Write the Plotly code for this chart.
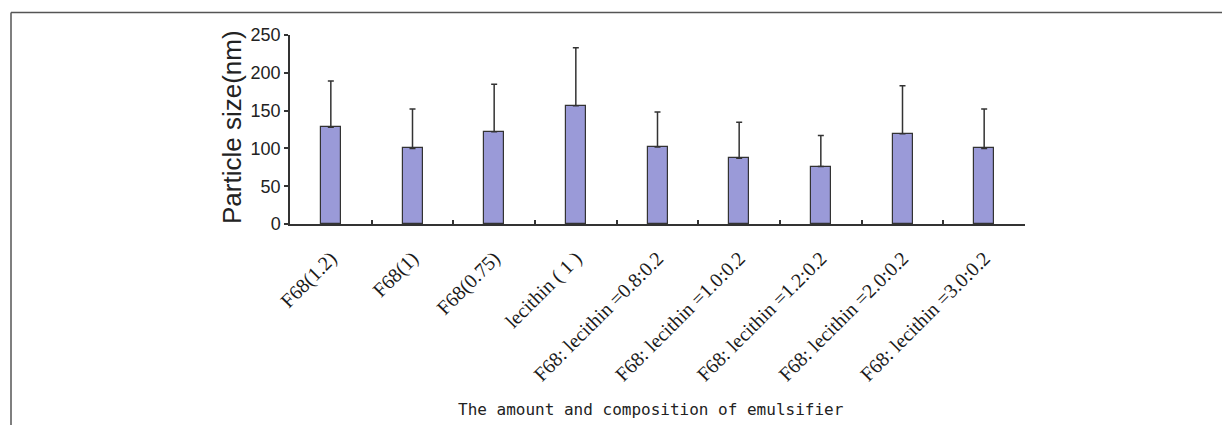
import plotly.graph_objects as go

# Emulsifier formulations and measured particle size (mean, upper SD)
categories = [
    "F68(1.2)",
    "F68(1)",
    "F68(0.75)",
    "lecithin ( 1 )",
    "F68: lecithin =0.8:0.2",
    "F68: lecithin =1.0:0.2",
    "F68: lecithin =1.2:0.2",
    "F68: lecithin =2.0:0.2",
    "F68: lecithin =3.0:0.2",
]
mean_size = [128, 100, 122, 156.5, 102, 87, 76, 119.5, 100]
sd_size = [61, 52, 63, 76.5, 46, 47.5, 41, 63.5, 52]
y_ticks = [0, 50, 100, 150, 200, 250]

W, H = 1222, 425
L, R, T, B = 290, 197, 35, 201
pw, ph = W - L - R, H - T - B


def px_x(p):
    return (p - L) / pw


def px_y(p):
    return (H - B - p) / ph


fig = go.Figure()
fig.add_trace(go.Bar(
    x=categories,
    y=mean_size,
    width=0.245,
    marker=dict(color="#9a9ad8", line=dict(color="#333333", width=1.2)),
    error_y=dict(
        type="data",
        symmetric=False,
        array=sd_size,
        arrayminus=[0] * len(sd_size),
        color="#333333",
        thickness=1.5,
        width=3,
    ),
    showlegend=False,
))

axis_color = "#333333"
fig.update_layout(
    width=W,
    height=H,
    margin=dict(l=L, r=R, t=T, b=B),
    paper_bgcolor="white",
    plot_bgcolor="white",
    bargap=0,
    xaxis=dict(
        type="category",
        tickson="boundaries",
        ticks="inside",
        ticklen=4,
        tickwidth=1.5,
        tickcolor=axis_color,
        showline=True,
        linecolor=axis_color,
        linewidth=1.5,
        showgrid=False,
        tickangle=-45,
        ticklabelstandoff=13,
        tickfont=dict(family="Liberation Serif", size=20, color="#1a1a1a"),
        range=[-0.5, len(categories) - 0.5],
    ),
    yaxis=dict(
        range=[0, 250],
        tickmode="array",
        tickvals=y_ticks,
        ticks="outside",
        ticklen=4,
        tickwidth=1.5,
        tickcolor=axis_color,
        showline=True,
        linecolor=axis_color,
        linewidth=1.5,
        showgrid=False,
        zeroline=False,
        tickfont=dict(family="Liberation Sans", size=18, color="#222222"),
    ),
    annotations=[
        dict(
            text="Particle size(nm)",
            xref="paper", yref="paper",
            x=px_x(232), y=px_y(127),
            xanchor="center", yanchor="middle",
            textangle=-90,
            showarrow=False,
            font=dict(family="Liberation Sans", size=26, color="#222222"),
        ),
        dict(
            text="The amount and composition of emulsifier",
            xref="paper", yref="paper",
            x=px_x(651), y=px_y(409),
            xanchor="center", yanchor="middle",
            showarrow=False,
            font=dict(family="DejaVu Sans Mono", size=16, color="#222222"),
        ),
    ],
    shapes=[
        dict(type="line", xref="paper", yref="paper",
             x0=px_x(11), x1=px_x(W + 5), y0=px_y(12.5), y1=px_y(12.5),
             line=dict(color="#555555", width=1.5)),
        dict(type="line", xref="paper", yref="paper",
             x0=px_x(11), x1=px_x(11), y0=px_y(12.5), y1=px_y(H + 5),
             line=dict(color="#555555", width=1.5)),
    ],
)

fig.write_html("out.html")
